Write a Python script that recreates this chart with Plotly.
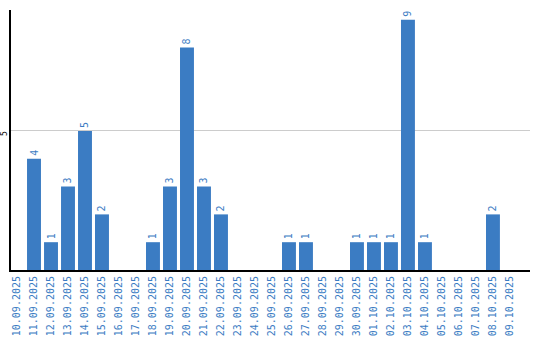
import plotly.graph_objects as go

dates = ["10.09.2025", "11.09.2025", "12.09.2025", "13.09.2025", "14.09.2025",
         "15.09.2025", "16.09.2025", "17.09.2025", "18.09.2025", "19.09.2025",
         "20.09.2025", "21.09.2025", "22.09.2025", "23.09.2025", "24.09.2025",
         "25.09.2025", "26.09.2025", "27.09.2025", "28.09.2025", "29.09.2025",
         "30.09.2025", "01.10.2025", "02.10.2025", "03.10.2025", "04.10.2025",
         "05.10.2025", "06.10.2025", "07.10.2025", "08.10.2025", "09.10.2025"]
counts = [0, 4, 1, 3, 5, 2, 0, 0, 1, 3, 8, 3, 2, 0, 0, 0, 1, 1, 0, 0,
          1, 1, 1, 9, 1, 0, 0, 0, 2, 0]
y_ticks = [5]

blue = "#3b7cc3"
labels = [str(v) if v > 0 else "" for v in counts]

fig = go.Figure(go.Bar(
    x=list(range(len(dates))), y=counts, marker_color=blue, marker_line_width=0,
    text=labels, textposition="outside", textangle=-90,
    textfont=dict(family="DejaVu Sans Mono", size=10, color=blue),
    cliponaxis=False,
))
for t in y_ticks:
    fig.add_annotation(x=-0.0116, xref="paper", y=t, yref="y", text=str(t),
                       textangle=-90, showarrow=False, xanchor="center",
                       yanchor="middle", borderpad=0, yshift=-2,
                       font=dict(family="DejaVu Sans Mono", size=8, color="black"))
fig.update_layout(
    width=540, height=340, margin=dict(l=11, r=10, t=10, b=70),
    paper_bgcolor="white", plot_bgcolor="white", bargap=0.18,
    showlegend=False,
    xaxis=dict(range=[-0.353, 30.18], tickmode="array",
               tickvals=list(range(len(dates))), ticktext=dates,
               tickangle=-90, showgrid=False, showline=True, linecolor="black",
               linewidth=2, ticks="", zeroline=False, automargin=False,
               tickfont=dict(family="DejaVu Sans Mono", size=10, color=blue)),
    yaxis=dict(range=[0, 9.35], tickvals=y_ticks, showticklabels=False,
               showgrid=True, gridcolor="#cccccc", gridwidth=1, automargin=False,
               showline=True, linecolor="black", linewidth=2, zeroline=False,
               ticks=""),
)
fig.write_html("out.html")
